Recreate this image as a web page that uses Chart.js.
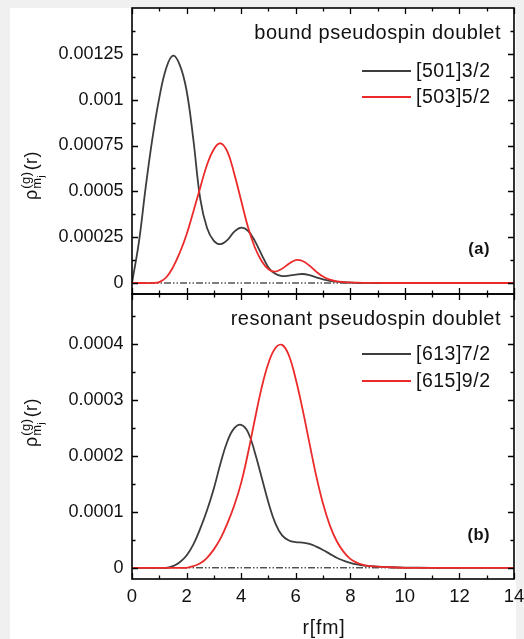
<!DOCTYPE html>
<html>
<head>
<meta charset="utf-8">
<script src="https://cdn.jsdelivr.net/npm/chart.js@4/dist/chart.umd.min.js"></script>
<style>
  html, body { margin: 0; padding: 0; background: #f0f0f0; }
  #paper { position: absolute; left: 10px; top: 8px; width: 506px; height: 631px; background: #fff; }
  canvas { position: absolute; left: 0; top: 0; }
</style>
</head>
<body>
<div id="paper"></div>
<canvas id="topChart" width="524" height="639"></canvas>
<canvas id="bottomChart" width="524" height="639"></canvas>
<script>
// radius grid (fm)
const rValues = [0, 0.25, 0.5, 0.75, 1, 1.25, 1.5, 1.75, 2, 2.25, 2.5, 2.75, 3, 3.25, 3.5, 3.75,
  4, 4.25, 4.5, 4.75, 5, 5.25, 5.5, 5.75, 6, 6.25, 6.5, 6.75, 7, 7.25, 7.5, 7.75, 8, 8.25, 8.5,
  9, 9.5, 10, 11, 12, 13, 14];

// densities, in units of 1e-4
const bound501 = [0, 2.2, 5.2, 7.9, 10.1, 11.7, 12.4, 11.9, 10.5, 7.8, 4.6, 3.0, 2.3, 2.12, 2.35, 2.8,
  3.02, 2.85, 2.3, 1.55, 0.85, 0.5, 0.38, 0.4, 0.46, 0.49, 0.43, 0.31, 0.2, 0.12, 0.07, 0.04, 0.02, 0.01, 0.005,
  0, 0, 0, 0, 0, 0, 0];
const bound503 = [0, 0, 0, 0, 0.05, 0.3, 0.85, 1.65, 2.65, 3.9, 5.2, 6.45, 7.3, 7.62, 7.15, 5.95,
  4.5, 3.05, 1.95, 1.2, 0.75, 0.62, 0.78, 1.05, 1.25, 1.2, 0.95, 0.62, 0.35, 0.18, 0.09, 0.05, 0.03, 0.015, 0.008,
  0.002, 0, 0, 0, 0, 0, 0];
const reson613 = [0, 0, 0, 0, 0, 0, 0.03, 0.1, 0.22, 0.42, 0.7, 1.03, 1.42, 1.88, 2.27, 2.5,
  2.56, 2.43, 2.07, 1.62, 1.17, 0.8, 0.58, 0.49, 0.46, 0.45, 0.43, 0.38, 0.32, 0.25, 0.18, 0.13, 0.09, 0.06, 0.04,
  0.02, 0.01, 0.005, 0, 0, 0, 0];
const reson615 = [0, 0, 0, 0, 0, 0, 0, 0, 0, 0.03, 0.08, 0.18, 0.33, 0.53, 0.8, 1.12,
  1.52, 2.05, 2.65, 3.22, 3.66, 3.93, 3.99, 3.8, 3.38, 2.84, 2.24, 1.65, 1.15, 0.76, 0.48, 0.29, 0.16, 0.09, 0.05,
  0.02, 0.01, 0, 0, 0, 0, 0];
const densityUnit = 1e-4;

// dash-dot-dot zero reference line
const zeroLineR = [0, 12];

const seriesLabels = ['[501]3/2', '[503]5/2', '[613]7/2', '[615]9/2'];
const panelTitles = ['bound pseudospin doublet', 'resonant pseudospin doublet'];
const panelTags = ['(a)', '(b)'];
const xTitle = 'r[fm]';

const xTicks = [0, 2, 4, 6, 8, 10, 12, 14];
const xTickLabels = ['0', '2', '4', '6', '8', '10', '12', '14'];
const topYTicks = [0, 0.00025, 0.0005, 0.00075, 0.001, 0.00125];
const topYTickLabels = ['0', '0.00025', '0.0005', '0.00075', '0.001', '0.00125'];
const bottomYTicks = [0, 0.0001, 0.0002, 0.0003, 0.0004];
const bottomYTickLabels = ['0', '0.0001', '0.0002', '0.0003', '0.0004'];

const GREY = '#3d3d3d';
const RED = '#ec2a2a';
const FONT = "'Liberation Sans', Arial, sans-serif";

const toPoints = vals => rValues.map((r, i) => ({ x: r, y: vals[i] * densityUnit }));

function curve(label, vals, color, order) {
  return {
    label, data: toPoints(vals), borderColor: color, borderWidth: 1.8,
    pointRadius: 0, tension: 0.4, fill: false, order
  };
}

function zeroLine() {
  return {
    label: '', data: zeroLineR.map(r => ({ x: r, y: 0 })), borderColor: '#000', borderWidth: 1,
    borderDash: [7, 2, 1.5, 2, 1.5, 2], pointRadius: 0, order: 5
  };
}

// frame, inward major/minor ticks, captions, legend and axis titles
const decor = {
  id: 'decor',
  afterDraw(chart, args, opts) {
    const { ctx, chartArea: ca } = chart;
    const xs = chart.scales.x, ys = chart.scales.y;
    ctx.save();
    ctx.strokeStyle = '#000';
    ctx.lineWidth = 1.6;
    ctx.strokeRect(ca.left, ca.top, ca.right - ca.left, ca.bottom - ca.top);

    ctx.lineWidth = 1.3;
    ctx.beginPath();
    const xStep = xTicks[1] - xTicks[0];
    for (let v = xTicks[0]; v <= xTicks[xTicks.length - 1] + 1e-9; v += xStep / 2) {
      const major = Math.abs(v / xStep - Math.round(v / xStep)) < 1e-6;
      const len = major ? 6 : 3.5;
      const px = Math.round(xs.getPixelForValue(v)) + 0.5;
      ctx.moveTo(px, ca.bottom); ctx.lineTo(px, ca.bottom - len);
      ctx.moveTo(px, ca.top); ctx.lineTo(px, ca.top + len);
    }
    const yt = opts.yTicks, yStep = yt[1] - yt[0];
    for (let v = yt[0]; v <= ys.max + 1e-12; v += yStep / 2) {
      const k = v / yStep;
      const major = Math.abs(k - Math.round(k)) < 1e-6;
      const len = major ? 6 : 3.5;
      const py = Math.round(ys.getPixelForValue(v)) + 0.5;
      if (py < ca.top + 1 || py > ca.bottom - 1) continue;
      ctx.moveTo(ca.left, py); ctx.lineTo(ca.left + len, py);
      ctx.moveTo(ca.right, py); ctx.lineTo(ca.right - len, py);
    }
    ctx.stroke();

    ctx.fillStyle = '#111';
    ctx.textBaseline = 'alphabetic';
    ctx.letterSpacing = '0.5px';
    ctx.font = '20px ' + FONT;
    ctx.textAlign = 'right';
    ctx.fillText(opts.title, 501, opts.titleY);

    // legend
    ctx.textAlign = 'left';
    ctx.font = '19.5px ' + FONT;
    opts.legendRows.forEach((ly, i) => {
      const ds = chart.data.datasets[i];
      ctx.strokeStyle = ds.borderColor;
      ctx.lineWidth = 1.8;
      ctx.beginPath(); ctx.moveTo(362, ly); ctx.lineTo(411, ly); ctx.stroke();
      ctx.fillText(ds.label, 416, ly + 6);
    });

    ctx.font = 'bold 16.5px ' + FONT;
    ctx.textAlign = 'right';
    ctx.fillText(opts.tag, 490, opts.tagY);

    if (opts.showXTitle) {
      ctx.letterSpacing = '0.8px';
      ctx.font = '19.5px ' + FONT;
      ctx.textAlign = 'center';
      ctx.fillText(xTitle, (ca.left + ca.right) / 2 + 1, 634);
    }

    // y axis title: rho^(g)_{m_j}(r)
    ctx.letterSpacing = '0.5px';
    ctx.translate(37, opts.yTitleBottom);
    ctx.rotate(-Math.PI / 2);
    ctx.textAlign = 'left';
    let cx = 0;
    ctx.font = '18px ' + FONT;
    ctx.fillText('ρ', cx, 0);
    cx += ctx.measureText('ρ').width + 0.5;
    ctx.font = '13px ' + FONT;
    ctx.fillText('(g)', cx, -7.5);
    const supW = ctx.measureText('(g)').width;
    ctx.fillText('m', cx, 4);
    const mW = ctx.measureText('m').width;
    ctx.font = '9px ' + FONT;
    ctx.fillText('j', cx + mW, 7);
    const subW = mW + ctx.measureText('j').width;
    cx += Math.max(supW, subW) + 1;
    ctx.font = '18px ' + FONT;
    ctx.fillText('(r)', cx, 0);
    ctx.restore();
  }
};

function makeChart(id, datasets, cfg) {
  return new Chart(document.getElementById(id), {
    type: 'line',
    data: { datasets },
    options: {
      responsive: false,
      animation: false,
      devicePixelRatio: 1,
      layout: { padding: { left: 0, right: 10, top: cfg.top, bottom: 0 } },
      plugins: { legend: { display: false }, tooltip: { enabled: false }, decor: cfg.decor },
      scales: {
        x: {
          type: 'linear', min: 0, max: 14,
          grid: { display: false, drawTicks: false }, border: { display: false },
          afterBuildTicks: s => { s.ticks = xTicks.map(v => ({ value: v })); },
          afterFit: s => { s.height = 639 - cfg.bottom; s.paddingLeft = 0; s.paddingRight = 0; },
          ticks: {
            display: cfg.showX, padding: 7, color: '#111', font: { family: FONT, size: 18.5 },
            maxRotation: 0, callback: (v, i) => xTickLabels[i]
          }
        },
        y: {
          type: 'linear', min: cfg.yMin, max: cfg.yMax,
          grid: { display: false, drawTicks: false }, border: { display: false },
          afterBuildTicks: s => { s.ticks = cfg.yTicks.map(v => ({ value: v })); },
          afterFit: s => { s.width = 132; s.paddingTop = 0; s.paddingBottom = 0; },
          ticks: {
            padding: 8.5, color: '#111', font: { family: FONT, size: 18 },
            callback: (v, i) => cfg.yLabels[i]
          }
        }
      }
    },
    plugins: [decor]
  });
}

makeChart('topChart', [
  curve(seriesLabels[0], bound501, GREY, 2),
  curve(seriesLabels[1], bound503, RED, 1),
  zeroLine()
], {
  top: 8, bottom: 294, showX: false, yMin: -0.00006, yMax: 0.0015,
  yTicks: topYTicks, yLabels: topYTickLabels,
  decor: { yTicks: topYTicks, title: panelTitles[0], titleY: 39, legendRows: [71, 97],
    tag: panelTags[0], tagY: 254, yTitleBottom: 200, showXTitle: false }
});

makeChart('bottomChart', [
  curve(seriesLabels[2], reson613, GREY, 2),
  curve(seriesLabels[3], reson615, RED, 1),
  zeroLine()
], {
  top: 294, bottom: 579, showX: true, yMin: -0.00002, yMax: 0.00049,
  yTicks: bottomYTicks, yLabels: bottomYTickLabels,
  decor: { yTicks: bottomYTicks, title: panelTitles[1], titleY: 325, legendRows: [354, 381],
    tag: panelTags[1], tagY: 540, yTitleBottom: 447, showXTitle: true }
});
</script>
</body>
</html>
